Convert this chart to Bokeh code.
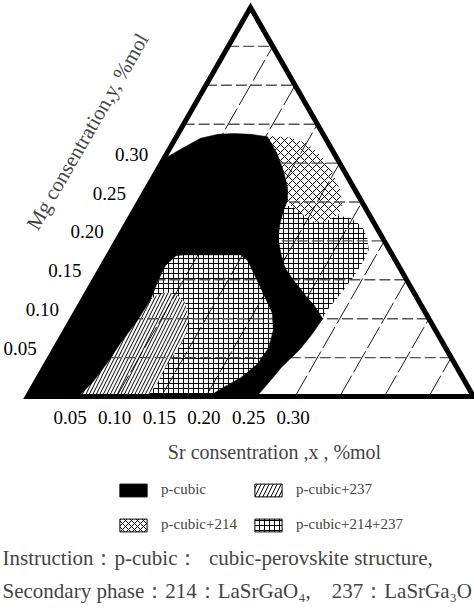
import numpy as np
from bokeh.plotting import figure
from bokeh.models import Range1d, Label, Legend, LegendItem
from bokeh.core.properties import value
from bokeh.embed import file_html
from bokeh.resources import INLINE

# ---------------- data (composition: Sr = x, Mg = y, mole fraction) ----------------
grid_values = [0.05, 0.10, 0.15, 0.20, 0.25, 0.30, 0.35, 0.40, 0.45]
side = 0.5
tick_values = [0.05, 0.10, 0.15, 0.20, 0.25, 0.30]
tick_labels = ["0.05", "0.10", "0.15", "0.20", "0.25", "0.30"]

# p-cubic single phase (black)
pcubic_sr = [0.000, 0.057, 0.064, 0.068, 0.070, 0.0745, 0.0756, 0.072, 0.0705, 0.076, 0.084, 0.148,
             0.159, 0.183, 0.203, 0.221, 0.233, 0.239, 0.237, 0.227, 0.214, 0.203, 0.257, 0.262,
             0.266, 0.275, 0.279, 0.281, 0.262, 0.250, 0.236, 0.224, 0.2085, 0.2015, 0.192, 0.179,
             0.172, 0.1675, 0.1655, 0.157, 0.142, 0.124, 0.102, 0.082, 0.062, 0.045, 0.028, 0.015, 0.000]
pcubic_mg = [0.000, 0.000, 0.019, 0.044, 0.069, 0.098, 0.125, 0.149, 0.168, 0.181, 0.182, 0.182,
             0.175, 0.149, 0.127, 0.107, 0.085, 0.063, 0.042, 0.024, 0.012, 0.000, 0.000, 0.020,
             0.038, 0.060, 0.080, 0.100, 0.118, 0.127, 0.139, 0.149, 0.163, 0.171, 0.184, 0.204,
             0.222, 0.239, 0.252, 0.269, 0.290, 0.312, 0.334, 0.337, 0.338, 0.337, 0.332, 0.320, 0.305]

# p-cubic + 214
p214_sr = [0.095, 0.102, 0.128, 0.151, 0.1735, 0.198, 0.218, 0.229, 0.232, 0.222, 0.208, 0.191,
           0.174, 0.160, 0.130, 0.100]
p214_mg = [0.333, 0.335, 0.333, 0.325, 0.310, 0.288, 0.265, 0.248, 0.234, 0.225, 0.225, 0.234,
           0.245, 0.245, 0.290, 0.320]

# p-cubic + 214 + 237 (right region)
p214_237a_sr = [0.150, 0.1865, 0.222, 0.248, 0.266, 0.279, 0.2885, 0.2895, 0.2885, 0.285, 0.281,
                0.280, 0.265, 0.220, 0.180, 0.160]
p214_237a_mg = [0.252, 0.240, 0.235, 0.229, 0.2185, 0.204, 0.188, 0.172, 0.152, 0.132, 0.113,
                0.098, 0.105, 0.135, 0.170, 0.210]

# p-cubic + 214 + 237 (lower-left region)
p214_237b_sr = [0.066, 0.084, 0.148, 0.162, 0.186, 0.206, 0.224, 0.236, 0.242, 0.240, 0.230,
                0.218, 0.207, 0.110, 0.095, 0.078, 0.066]
p214_237b_mg = [0.186, 0.186, 0.186, 0.178, 0.150, 0.128, 0.108, 0.086, 0.063, 0.042, 0.022,
                0.008, 0.000, 0.000, 0.050, 0.100, 0.150]

# p-cubic + 237
p237_sr = [0.0756, 0.081, 0.090, 0.103, 0.116, 0.1285, 0.137, 0.1386, 0.137, 0.136, 0.1374, 0.134,
           0.052, 0.060, 0.064, 0.066, 0.070, 0.071]
p237_mg = [0.1247, 0.131, 0.134, 0.130, 0.121, 0.104, 0.085, 0.068, 0.051, 0.033, 0.017, 0.000,
           0.000, 0.020, 0.045, 0.070, 0.100, 0.122]

legend_labels = ["p-cubic", "p-cubic+237", "p-cubic+214", "p-cubic+214+237"]


def tern(sr, mg):
    sr = np.asarray(sr, dtype=float)
    mg = np.asarray(mg, dtype=float)
    return sr + mg / 2.0, mg


FONT = "Liberation Serif"
W, H = 474, 611
NB = "\u00a0"

p = figure(width=W, height=H, x_range=Range1d(-27 / 892, 447 / 892),
           y_range=Range1d(-215 / 778, 396 / 778), toolbar_location=None,
           output_backend="svg", min_border=0, x_axis_location=None,
           y_axis_location=None, outline_line_color=None,
           background_fill_color="white", border_fill_color="white")
p.xgrid.visible = False
p.ygrid.visible = False

HATCH = {
    "237": dict(hatch_pattern="/", hatch_scale=7, hatch_weight=1, hatch_color="black"),
    "214": dict(hatch_pattern="x", hatch_scale=8, hatch_weight=1, hatch_color="black"),
    "214+237": dict(hatch_pattern="+", hatch_scale=5, hatch_weight=1, hatch_color="black"),
}

# hatched regions
ax, ay = tern(p214_237a_sr, p214_237a_mg)
p.patch(ax, ay, fill_color="white", line_color=None, **HATCH["214+237"])
cx, cy = tern(p214_sr, p214_mg)
p.patch(cx, cy, fill_color="white", line_color=None, **HATCH["214"])
bx2, by2 = tern(p214_237b_sr, p214_237b_mg)
p.patch(bx2, by2, fill_color="white", line_color=None, **HATCH["214+237"])
sx, sy = tern(p237_sr, p237_mg)
p.patch(sx, sy, fill_color="white", line_color=None, **HATCH["237"])

# ternary grid
hxs, hys, dxs, dys = [], [], [], []
for v in grid_values:
    gx, gy = tern([0.0, side - v], [v, v])
    hxs.append(list(gx)); hys.append(list(gy))
    gx, gy = tern([v, v], [0.0, side - v])
    dxs.append(list(gx)); dys.append(list(gy))
p.multi_line(hxs, hys, line_color="#555555", line_width=1.4, line_dash="11 4")
p.multi_line(dxs, dys, line_color="black", line_width=0.9, line_dash="24 4")

# p-cubic region
kx, ky = tern(pcubic_sr, pcubic_mg)
p.patch(kx, ky, fill_color="black", line_color="black", line_width=0.5)

# triangle frame
tx, ty = tern([0.0, 0.0, side], [0.0, side, 0.0])
p.patch(tx, ty, fill_color=None, line_color="black", line_width=5, line_join="miter")

# tick labels
tbx, tby = tern(tick_values, [0.0] * len(tick_values))
p.text(tbx, tby, text=tick_labels, text_font=value(FONT), x_offset=-2, y_offset=21,
       text_align="center", text_baseline="alphabetic", text_font_size="19px", text_color="black")
tlx, tly = tern([0.0] * len(tick_values), tick_values)
p.text(tlx, tly, text=tick_labels, text_font=value(FONT), x_offset=-13, y_offset=-9,
       text_align="right", text_baseline="alphabetic", text_font_size="19px", text_color="black")

# axis titles
p.add_layout(Label(x=274, y=H - 451, x_units="screen", y_units="screen",
                   text="Sr consentration ,x , %mol", text_font=FONT, text_font_size="20px",
                   text_align="center", text_baseline="alphabetic"))
p.add_layout(Label(x=87, y=H - 131, x_units="screen", y_units="screen",
                   text="Mg consentration,y, %mol", text_font=FONT, text_font_size="21px",
                   text_align="center", text_baseline="middle", angle=60, angle_units="deg"))

# legend swatch renderers (a single vertex each, so nothing is drawn in the plot)
r_black = p.patch(kx[:1], ky[:1], fill_color="black", line_color="black", line_width=1)
r_237 = p.patch(sx[:1], sy[:1], fill_color="white", line_color="black", line_width=1,
                hatch_pattern="/", hatch_scale=8, hatch_weight=1, hatch_color="black")
r_214 = p.patch(cx[:1], cy[:1], fill_color="white", line_color="black", line_width=1,
                hatch_pattern="x", hatch_scale=6, hatch_weight=1, hatch_color="black")
r_214_237 = p.patch(ax[:1], ay[:1], fill_color="white", line_color="black", line_width=1,
                    hatch_pattern="+", hatch_scale=5, hatch_weight=1, hatch_color="black")

leg_style = dict(orientation="vertical", glyph_width=34, glyph_height=16, label_standoff=11,
                 spacing=18, padding=0, margin=0, border_line_color=None,
                 background_fill_alpha=0, label_text_font=FONT, label_text_font_size="15px",
                 label_height=16)
leg1 = Legend(items=[LegendItem(label=legend_labels[0], renderers=[r_black]),
                     LegendItem(label=legend_labels[2], renderers=[r_214])],
              location=(116, H - 533), **leg_style)
leg2 = Legend(items=[LegendItem(label=legend_labels[1], renderers=[r_237]),
                     LegendItem(label=legend_labels[3], renderers=[r_214_237])],
              location=(251, H - 533), **leg_style)
p.add_layout(leg1)
p.add_layout(leg2)

# notes
p.add_layout(Label(x=2, y=H - 557, x_units="screen", y_units="screen",
                   text="Instruction：p-cubic：" + NB * 2 + "cubic-perovskite structure,",
                   text_font=FONT, text_font_size="21px", text_baseline="alphabetic"))
p.add_layout(Label(x=2, y=H - 590, x_units="screen", y_units="screen",
                   text="Secondary phase：214：LaSrGaO₄," + NB * 4 + "237：LaSrGa₃O",
                   text_font=FONT, text_font_size="21px", text_baseline="alphabetic"))

open("out.html", "w").write(file_html(p, INLINE))
